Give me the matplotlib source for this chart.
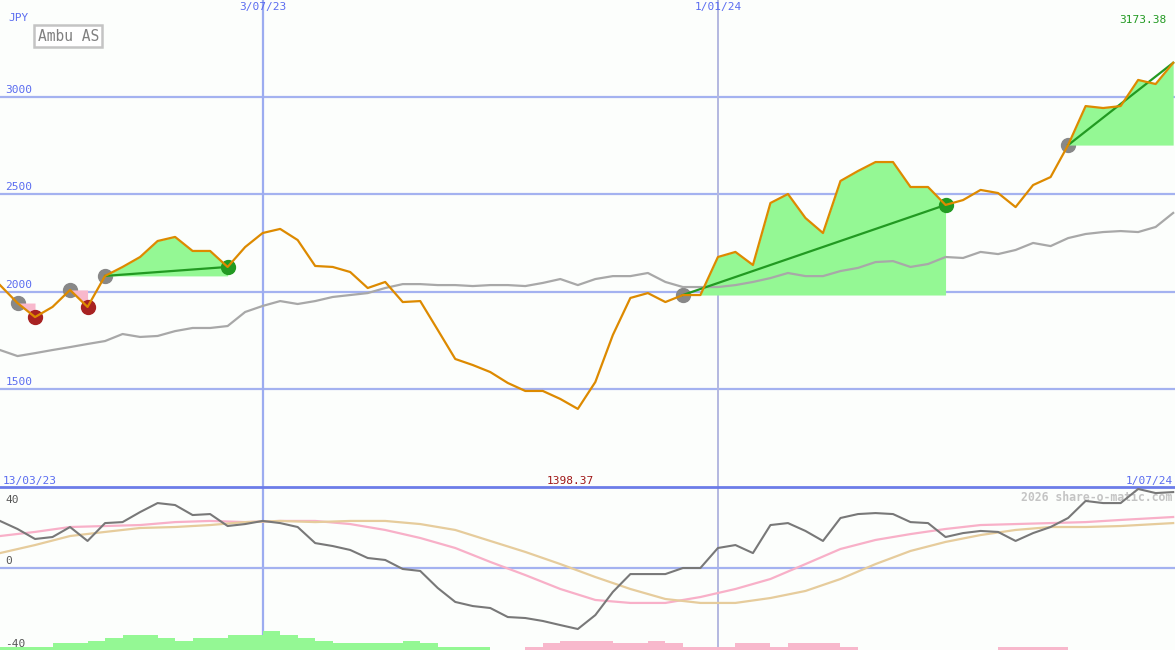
import matplotlib
matplotlib.use('Agg')
import matplotlib.pyplot as plt

plt.rcParams['font.family'] = 'DejaVu Sans Mono'

# weekly closes, JPY
price = [2033, 1941, 1869, 1921, 2008, 1921, 2080, 2126, 2177, 2259,
         2280, 2208, 2208, 2126, 2228, 2300, 2321, 2264, 2131, 2126,
         2100, 2018, 2049, 1946, 1951, 1803, 1654, 1623, 1587, 1531,
         1490, 1490, 1449, 1398, 1536, 1777, 1967, 1992, 1946, 1982,
         1982, 2177, 2203, 2136, 2454, 2500, 2377, 2300, 2567, 2618,
         2664, 2664, 2536, 2536, 2444, 2469, 2521, 2505, 2433, 2546,
         2587, 2751, 2951, 2941, 2951, 3085, 3064, 3173]
# moving average
avg = [1700, 1669, 1684, 1700, 1715, 1731, 1746, 1782, 1767, 1772,
       1797, 1813, 1813, 1823, 1895, 1926, 1951, 1936, 1951, 1972,
       1982, 1992, 2018, 2038, 2038, 2033, 2033, 2028, 2033, 2033,
       2028, 2044, 2064, 2033, 2064, 2079, 2079, 2095, 2049, 2023,
       2023, 2023, 2033, 2049, 2069, 2095, 2079, 2079, 2105, 2121,
       2151, 2156, 2126, 2141, 2177, 2172, 2203, 2192, 2213, 2249,
       2233, 2274, 2295, 2305, 2310, 2305, 2331, 2403]
weeks = list(range(len(price)))
last_price = 3173.38
low_price = 1398.37

# trades: entry week, exit week, result
trade_entry = [1, 4, 6, 39, 61]
trade_exit = [2, 5, 13, 54, 67]
trade_win = [False, False, True, True, True]
trade_open = [False, False, False, False, True]

# oscillator panel
momentum = [28.7, 23.8, 17.7, 18.9, 25.0, 16.5, 27.4, 28.0, 34.1, 39.6,
            38.4, 32.3, 32.9, 25.6, 26.8, 28.7, 27.4, 25.0, 15.2, 13.4,
            11.0, 6.1, 4.9, -0.6, -1.8, -12.2, -20.7, -23.2, -24.4, -29.9,
            -30.5, -32.3, -34.8, -37.2, -28.7, -14.6, -3.7, -3.7, -3.7, 0.0,
            0.0, 12.2, 14.0, 9.1, 26.2, 27.4, 22.6, 16.5, 30.5, 32.9,
            33.5, 32.9, 28.0, 27.4, 18.9, 21.3, 22.6, 22.0, 16.5, 21.3,
            25.0, 30.5, 40.9, 39.6, 39.6, 48.2, 45.7, 46.3]
smooth_weeks = [0, 2, 4, 6, 8, 10, 12, 14, 16, 18, 20, 22, 24, 26, 28, 30, 32,
                34, 36, 38, 40, 42, 44, 46, 48, 50, 52, 54, 56, 58, 60, 62, 64,
                66, 67]
pink_line = [19.5, 22.0, 25.0, 25.6, 26.2, 28.0, 28.7, 28.0, 28.7, 28.7,
             26.8, 23.2, 18.3, 12.2, 3.7, -4.3, -12.8, -19.5, -21.3, -21.3,
             -17.7, -12.8, -6.7, 2.4, 11.6, 17.1, 20.7, 23.8, 26.2, 26.8,
             27.4, 28.0, 29.3, 30.5, 31.1]
tan_line = [9.1, 14.0, 19.5, 22.0, 24.4, 25.0, 26.2, 28.0, 28.7, 28.0,
            28.7, 28.7, 26.8, 23.2, 16.5, 9.8, 2.4, -5.5, -12.8, -18.9,
            -21.3, -21.3, -18.3, -14.0, -6.7, 2.4, 10.4, 15.9, 20.1, 23.2,
            25.0, 25.0, 25.6, 26.8, 27.4]
# weekly histogram (positive green, negative pink)
hist = [3, 3, 3, 7, 7, 9, 12, 15, 15, 12,
        9, 12, 12, 15, 15, 19, 15, 12, 9, 7,
        7, 7, 7, 9, 7, 3, 3, 3, 0, 0,
        -3, -7, -9, -9, -9, -7, -7, -9, -7, -3,
        -3, -3, -7, -7, -3, -7, -7, -7, -3, 0,
        0, 0, 0, 0, 0, 0, 0, -3, -3, -3,
        -3, 0, 0, 0, 0, 0, 0, 0]

price_grid = [1500, 2000, 2500, 3000]
date_lines = [15, 41]
date_labels = ['3/07/23', '1/01/24']

bg = '#fcfefc'
grid_c = '#a4b2f0'
blue_txt = '#5a6cf0'
fill_green = '#94f894'
fill_pink = '#f8b8cc'
line_green = '#229a22'
fs = 8

fig = plt.figure(figsize=(11.75, 6.5), dpi=100)
fig.patch.set_facecolor(bg)
ax = fig.add_axes([0, 163 / 650, 1, 487 / 650])
ax2 = fig.add_axes([0, 0, 1, 163 / 650], sharex=ax)
for a in (ax, ax2):
    a.set_facecolor(bg)
    a.set_xticks([])
    a.set_yticks([])
    for s in a.spines.values():
        s.set_visible(False)

ax.set_xlim(0, 1175 / 17.51)
ax.set_ylim(997.5, 3495)
ax2.set_ylim(-50, 49.4)

# grid
for v in price_grid:
    ax.axhline(v, color=grid_c, lw=1.6, zorder=1)
    ax.text(0.3, v + 10, str(v), color=blue_txt, fontsize=fs, va='bottom')
ax.axvline(date_lines[0], color='#9cacf0', lw=1.6, zorder=1)
ax.axvline(date_lines[1], color='#b4b8e0', lw=1.4, zorder=1)
ax2.axvline(date_lines[0], color='#9cacf0', lw=1.6, zorder=1)
ax2.axvline(date_lines[1], color='#b4b8e0', lw=1.4, zorder=1)
for d, lab in zip(date_lines, date_labels):
    ax.text(d, 0.996, lab, transform=ax.get_xaxis_transform(), ha='center', va='top',
            color=blue_txt, fontsize=fs)

# trades: entry dot sits under the profit/loss area
for e, x, win, op in zip(trade_entry, trade_exit, trade_win, trade_open):
    level = price[e]
    xs = weeks[e:x + 1]
    ys = price[e:x + 1]
    ax.plot(e, level, 'o', color='#888888', ms=10, zorder=1.5)
    ax.fill_between(xs, ys, level, color=fill_green if win else fill_pink, lw=0, zorder=2)
    if win:
        ax.plot([e, x], [level, price[x]], color=line_green, lw=1.6, zorder=4)

ax.plot(weeks, avg, color='#a8a8a8', lw=1.6, zorder=3)
ax.plot(weeks, price, color='#dd8a00', lw=1.6, zorder=5)

for e, x, win, op in zip(trade_entry, trade_exit, trade_win, trade_open):
    if not op:
        ax.plot(x, price[x], 'o', color=line_green if win else '#a82222', ms=10, zorder=4.5)

# labels
ax.text(0.007, 0.964, 'JPY', transform=ax.transAxes, color=blue_txt, fontsize=fs, va='center')
ax.text(0.058, 0.926, 'Ambu AS', transform=ax.transAxes, color='#808080', fontsize=10.5,
        ha='center', va='center',
        bbox=dict(boxstyle='square,pad=0.25', fc='white', ec='#c4c4c4', lw=1.8))
ax.text(0.993, 0.958, '%.2f' % last_price, transform=ax.transAxes,
        color=line_green, fontsize=fs, ha='right', va='center')
ax.text(0.002, 0.003, '13/03/23', transform=ax.transAxes, color=blue_txt, fontsize=fs, va='bottom')
ax.text(32.6, 0.003, '%.2f' % low_price, transform=ax.get_xaxis_transform(), color='#a01818',
        fontsize=fs, va='bottom', ha='center')
ax.text(0.998, 0.003, '1/07/24', transform=ax.transAxes, color=blue_txt, fontsize=fs,
        va='bottom', ha='right')

# oscillator panel
ax2.spines['top'].set_visible(True)
ax2.spines['top'].set_color('#6c7ce8')
ax2.spines['top'].set_linewidth(2)
ax2.axhline(0, color=grid_c, lw=1.6, zorder=1)
ax2.plot(smooth_weeks, pink_line, color='#f8b0c8', lw=1.6, zorder=3)
ax2.plot(smooth_weeks, tan_line, color='#e6cc9c', lw=1.6, zorder=3)
ax2.plot(weeks, momentum, color='#787878', lw=1.5, zorder=4)
for v, lab in [(38.5, '40'), (1.0, '0'), (-49.5, '-40')]:
    ax2.text(0.3, v, lab, color='#555555', fontsize=fs, va='bottom')
ax2.text(0.998, 0.935, '2026 share-o-matic.com', transform=ax2.transAxes, color='#c4c4c4',
         fontsize=8.3, fontweight='bold', ha='right', va='center', zorder=2)

axh = ax2.twinx()
axh.set_ylim(0, 163)
axh.set_yticks([])
for s in axh.spines.values():
    s.set_visible(False)
hist_col = [fill_green if h > 0 else fill_pink for h in hist]
axh.bar(weeks, [abs(h) for h in hist], width=1.0, align='edge', color=hist_col, lw=0)

fig.savefig('out.png', dpi=100, facecolor=bg)
